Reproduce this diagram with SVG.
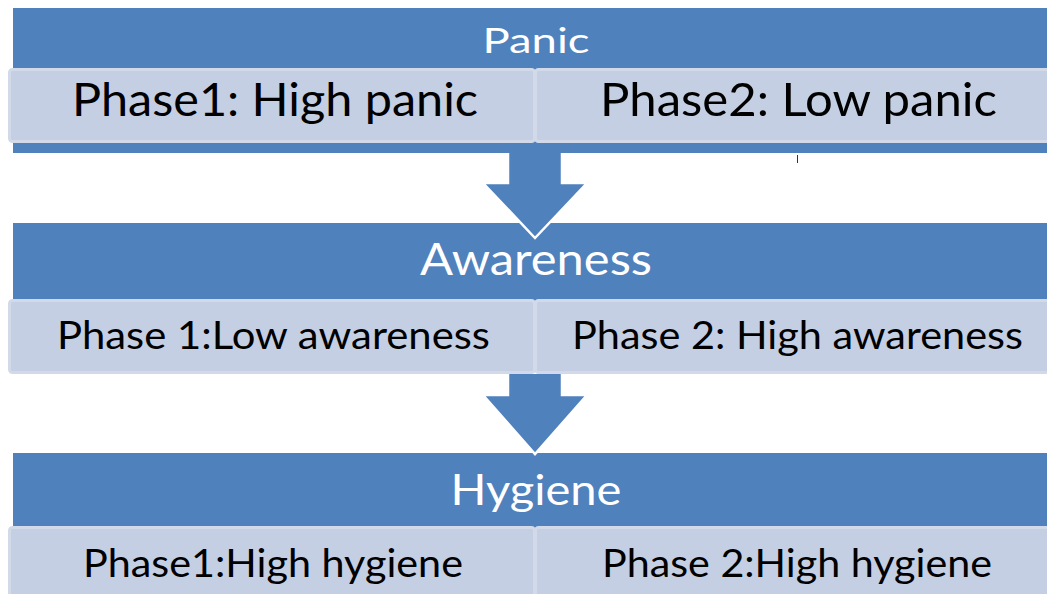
<svg xmlns="http://www.w3.org/2000/svg" width="1047" height="594" viewBox="0 0 1047 594">
<style>
.bar{fill:#4F81BD}
.sub{fill:#C4CFE3;stroke:#D2DAEA;stroke-width:3}
.arrow{fill:#4F81BD;stroke:#FFFFFF;stroke-width:2.5;stroke-linejoin:miter}
.title{font-family:Lato,"Open Sans",sans-serif;fill:#FFFFFF;text-anchor:middle}
.phase{font-family:Lato,"Open Sans",sans-serif;fill:#000000}
</style>
<rect width="1047" height="594" fill="#FFFFFF"/>
<g id="panic">
<rect class="bar" x="13" y="8" width="1040" height="145"/>
<text class="title" x="536" y="53" font-size="35" textLength="107" lengthAdjust="spacingAndGlyphs">Panic</text>
</g>
<g id="panic-phase1">
<rect class="sub" x="9.5" y="69.5" width="525" height="72" rx="3"/>
<text class="phase" x="72" y="116" font-size="47" textLength="406" lengthAdjust="spacingAndGlyphs">Phase1: High panic</text>
</g>
<g id="panic-phase2">
<rect class="sub" x="535.5" y="69.5" width="520" height="72" rx="3"/>
<text class="phase" x="600" y="116" font-size="47" textLength="397" lengthAdjust="spacingAndGlyphs">Phase2: Low panic</text>
</g>
<g id="awareness">
<rect class="bar" x="13" y="223" width="1040" height="78"/>
</g>
<g id="awareness-phase1">
<rect class="sub" x="9.5" y="300.5" width="525" height="72" rx="3"/>
<text class="phase" x="57" y="349" font-size="39" textLength="433" lengthAdjust="spacingAndGlyphs">Phase 1:Low awareness</text>
</g>
<g id="awareness-phase2">
<rect class="sub" x="535.5" y="300.5" width="520" height="72" rx="3"/>
<text class="phase" x="572" y="349" font-size="39" textLength="451" lengthAdjust="spacingAndGlyphs">Phase 2: High awareness</text>
</g>
<g id="hygiene">
<rect class="bar" x="13" y="453" width="1040" height="75"/>
<text class="title" x="536" y="505" font-size="43" textLength="171" lengthAdjust="spacingAndGlyphs">Hygiene</text>
</g>
<g id="hygiene-phase1">
<rect class="sub" x="9.5" y="527.5" width="525" height="80" rx="3"/>
<text class="phase" x="83" y="577" font-size="38" textLength="380" lengthAdjust="spacingAndGlyphs">Phase1:High hygiene</text>
</g>
<g id="hygiene-phase2">
<rect class="sub" x="535.5" y="527.5" width="520" height="80" rx="3"/>
<text class="phase" x="602" y="577" font-size="38" textLength="390" lengthAdjust="spacingAndGlyphs">Phase 2:High hygiene</text>
</g>
<g id="connectors">
<path class="arrow" d="M508,153 L508,183 L483,183 L535,238 L587,183 L562,183 L562,153"/>
<path class="arrow" d="M508,374 L508,395 L483,395 L535,454 L587,395 L562,395 L562,374"/>
<line x1="797.5" y1="155" x2="797.5" y2="163" stroke="#333333" stroke-width="1"/>
</g>
<g id="awareness-title">
<text class="title" x="536" y="275" font-size="44" textLength="232" lengthAdjust="spacingAndGlyphs">Awareness</text>
</g>
</svg>
